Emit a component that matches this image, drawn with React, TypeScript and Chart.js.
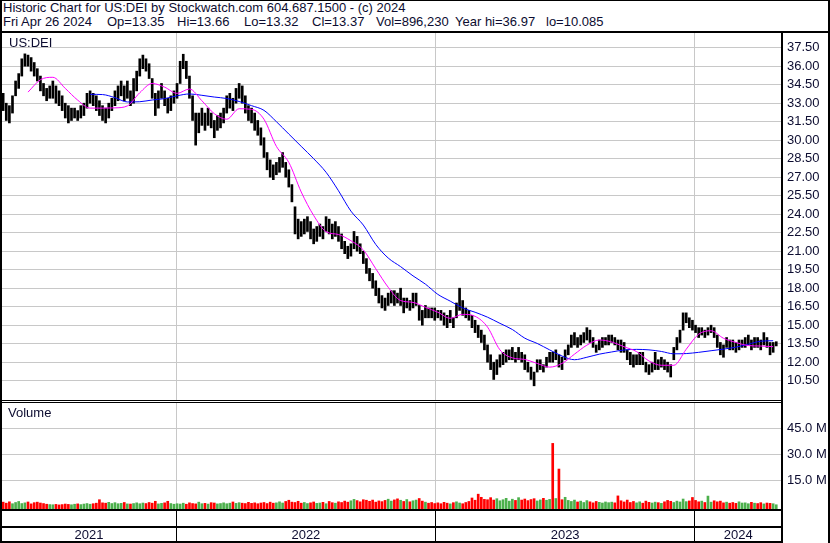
import React, { useEffect, useRef } from "react";
import { Chart, registerables } from "chart.js";
Chart.register(...registerables);

// ---- data (one bar = 3 trading days, Apr 2021 -> Apr 26 2024) ----
const priceLows = [
  32.4, 31.6, 31.4, 32.2, 33.6, 34.2, 35.2, 36.0, 36.0, 35.6,
  35.2, 34.8, 34.0, 33.6, 33.2, 33.4, 33.4, 33.0, 32.8, 32.4,
  31.8, 31.4, 31.6, 31.8, 31.6, 31.8, 32.0, 32.6, 33.0, 32.8,
  32.4, 32.0, 31.6, 31.4, 31.8, 32.4, 32.8, 33.2, 33.6, 33.2,
  33.4, 32.8, 33.0, 34.0, 35.2, 35.8, 35.6, 35.0, 33.4, 32.0,
  32.6, 33.4, 32.8, 32.2, 32.4, 33.0, 33.4, 34.6, 35.8, 35.0,
  33.4, 31.6, 29.6, 30.6, 31.2, 30.8, 31.2, 31.0, 30.2, 30.8,
  31.0, 31.4, 32.2, 32.6, 32.4, 33.0, 33.4, 33.0, 32.2, 31.6,
  31.4, 30.8, 30.4, 29.6, 28.6, 27.6, 27.0, 26.8, 27.2, 27.4,
  27.8, 27.0, 26.2, 25.0, 22.4, 22.0, 22.2, 22.4, 22.6, 22.0,
  21.6, 21.8, 22.2, 22.0, 22.6, 22.4, 22.0, 22.2, 21.8, 21.2,
  20.8, 20.4, 20.6, 21.2, 21.0, 20.8, 20.0, 19.2, 18.6, 18.0,
  17.4, 16.8, 16.4, 16.2, 16.6, 16.8, 16.6, 16.8, 16.6, 16.0,
  16.4, 16.2, 16.4, 16.6, 15.4, 15.0, 15.6, 15.6, 15.6, 15.4,
  15.6, 15.4, 15.0, 14.8, 15.2, 14.8, 15.6, 16.2, 15.8, 15.6,
  15.4, 14.8, 14.4, 14.0, 13.6, 13.0, 12.0, 11.4, 10.6, 11.0,
  11.6, 11.8, 12.0, 12.2, 12.2, 12.0, 12.2, 12.0, 11.4, 11.2,
  10.6, 10.085, 11.2, 11.4, 11.2, 11.6, 12.0, 12.0, 12.2, 11.6,
  11.4, 12.2, 12.6, 13.2, 13.4, 13.2, 13.4, 13.6, 13.8, 13.6,
  13.2, 12.8, 13.0, 13.2, 13.4, 13.4, 13.6, 13.4, 13.0, 12.8,
  12.8, 12.2, 11.8, 11.6, 11.8, 11.8, 11.8, 11.2, 11.0, 11.2,
  11.4, 11.4, 11.6, 11.4, 11.2, 10.8, 12.2, 13.0, 13.6, 14.6,
  15.2, 14.8, 14.6, 14.4, 14.0, 14.2, 14.0, 14.2, 14.4, 14.0,
  13.2, 12.6, 12.4, 13.2, 13.0, 13.0, 12.8, 13.0, 13.2, 13.2,
  13.4, 13.0, 13.2, 13.2, 13.0, 13.4, 13.2, 12.6, 12.8, 13.32,
];
const priceHighs = [
  33.8, 33.0, 32.8, 33.6, 34.8, 35.4, 36.6, 37.0, 36.9, 36.7,
  36.3, 35.8, 35.2, 34.6, 34.2, 34.4, 34.8, 34.4, 34.0, 33.6,
  33.0, 32.8, 32.6, 32.6, 32.4, 32.8, 33.0, 33.8, 34.0, 33.8,
  33.6, 33.2, 32.8, 32.6, 33.0, 33.4, 34.0, 34.4, 34.8, 34.4,
  34.8, 34.0, 35.0, 35.6, 36.6, 36.9, 36.6, 36.2, 35.0, 33.8,
  34.0, 34.6, 34.0, 33.4, 33.6, 34.0, 34.6, 36.4, 36.97, 36.4,
  35.2, 33.6, 32.2, 32.2, 32.6, 32.2, 32.6, 32.2, 31.6, 32.0,
  32.2, 32.6, 33.6, 33.8, 33.4, 34.2, 34.6, 34.4, 33.6, 32.8,
  32.6, 32.2, 31.6, 31.0, 30.2, 29.0, 28.4, 28.0, 28.2, 28.6,
  29.0, 28.2, 27.6, 26.4, 24.6, 23.6, 23.4, 23.6, 23.8, 23.4,
  22.8, 23.0, 23.2, 23.0, 23.8, 23.6, 23.2, 23.4, 23.0, 22.4,
  21.8, 21.4, 21.6, 22.6, 22.2, 21.6, 21.0, 20.4, 19.6, 19.2,
  18.6, 18.0, 17.4, 17.2, 17.6, 17.8, 17.8, 17.6, 18.0, 17.2,
  17.2, 17.0, 17.6, 17.6, 16.6, 16.2, 16.6, 16.4, 16.4, 16.4,
  16.2, 16.2, 16.0, 15.8, 16.2, 15.6, 16.8, 18.0, 17.0, 16.4,
  16.2, 15.8, 15.4, 15.0, 14.6, 14.2, 13.4, 12.6, 12.0, 12.2,
  12.6, 12.8, 13.0, 13.0, 13.2, 12.8, 13.2, 12.8, 12.6, 12.0,
  11.6, 11.2, 12.2, 12.2, 11.8, 12.4, 12.8, 12.8, 13.0, 12.6,
  12.4, 13.0, 13.4, 14.2, 14.4, 14.0, 14.2, 14.4, 14.8, 14.6,
  14.0, 13.4, 13.8, 14.0, 14.0, 14.2, 14.2, 14.0, 13.8, 13.8,
  13.6, 13.0, 12.8, 12.6, 12.6, 12.8, 12.8, 12.0, 11.8, 12.0,
  12.8, 12.2, 12.4, 12.2, 12.0, 11.8, 13.2, 14.0, 14.6, 16.0,
  16.0, 15.6, 15.4, 15.0, 14.8, 14.8, 14.6, 14.8, 15.0, 14.8,
  14.2, 13.6, 13.4, 14.0, 13.8, 13.8, 13.6, 13.8, 13.8, 14.0,
  14.2, 13.8, 14.0, 14.0, 13.8, 14.4, 14.0, 13.6, 13.6, 13.66,
];
// volume in millions of shares
const volumeM = [
  2.4, 1.8, 2.6, 1.5, 2.2, 2.8, 1.6, 2.0, 2.5, 1.4, 2.1,
  2.4, 1.9, 1.6, 1.2, 1.0, 0.9, 1.1, 0.8, 1.0, 1.3,
  1.1, 0.9, 1.2, 1.4, 1.0, 1.3, 1.6, 1.2, 1.5, 1.8, 3.8,
  2.0, 1.8, 2.3, 1.6, 2.1, 1.5, 1.7, 2.2, 1.4, 1.3, 1.6, 2.0, 1.5, 1.9,
  1.6, 2.2, 1.8, 2.9, 1.4, 1.7, 2.0, 2.9, 1.6, 1.2, 1.5,
  1.3, 1.8, 1.2, 2.0, 1.6, 1.4, 2.4, 1.5, 1.7, 1.3, 2.1, 1.9, 1.4, 1.6, 2.0, 1.5, 1.8, 2.5, 1.7,
  2.1, 1.8, 1.6, 2.3, 1.7, 2.0, 1.5, 1.9, 2.2, 1.6, 2.4, 1.8, 2.0, 2.6, 1.9,
  2.8, 3.5, 2.4, 2.2, 2.9,
  1.8, 2.2, 1.6, 2.0, 2.5, 1.7, 1.9, 2.3, 1.5, 2.8, 2.1, 1.8, 2.6, 2.2, 3.0, 2.4,
  3.2, 4.0, 3.3, 2.6, 3.8, 3.5, 2.9, 3.6, 2.4, 3.1, 2.7, 3.4, 4.1, 3.0, 3.7, 4.3, 3.5, 2.8, 3.9, 2.6, 3.2,
  3.6, 4.5, 3.0, 2.4,
  1.8, 2.2, 1.6, 2.0, 1.5, 2.3, 1.8, 1.4, 2.1, 2.6, 1.9, 1.5, 2.2, 2.8,
  4.8, 3.5, 7.0, 5.2, 4.0, 3.8, 5.0, 3.6,
  4.4, 3.2, 3.8, 4.6, 3.0, 4.1, 3.4, 5.0, 3.6, 4.2, 3.3, 3.9, 4.4, 3.1, 3.7, 4.6, 3.5,
  4.0, 36.3, 4.5, 21.5, 3.8,
  5.2, 3.4, 2.8, 3.6, 2.5, 3.0, 2.2, 3.3, 2.6, 2.0, 2.8, 2.3, 1.9, 2.5, 2.1,
  2.4, 2.0, 6.0, 3.2, 2.5, 3.6, 2.2, 2.8, 2.0, 2.6, 1.8, 3.0, 2.3, 1.9, 2.4,
  2.1, 1.7, 2.6, 3.4, 2.9, 2.2, 3.0, 2.5, 4.2, 2.7, 3.1, 5.1,
  3.4, 2.6, 3.0, 2.2, 5.9,
  2.4, 3.2, 2.6, 3.0, 2.0, 2.4, 1.8, 2.2, 1.7, 2.6, 1.9, 2.0, 1.5, 2.3, 1.8, 1.6, 2.1, 1.4, 1.9, 1.7, 1.5, 0.9,
];
// moving averages, one value every 12 trading days
const maFast = [
  null, null, 33.9, 34.9, 35.1, 34.2, 33.25, 32.6, 32.6, 32.62,
  32.78, 33.85, 34.6, 34.3, 33.8, 34.15, 33.2, 32.15, 31.7, 32.55,
  32.5, 31.7, 29.5, 28.2, 25.8, 23.9, 22.58, 22.35, 21.85, 21.1,
  19.58, 18.08, 17.0, 16.85, 16.45, 16.05, 15.56, 15.88, 15.72, 14.85,
  13.0, 12.35, 12.22, 11.9, 11.6, 11.9, 12.65, 13.38, 13.8, 13.64,
  13.25, 12.86, 12.1, 11.75, 11.75, 13.05, 14.27, 14.55, 13.94, 13.6,
  13.35, 13.31, 13.26,
];
const maSlow = [
  null, null, null, null, null, null, null, 33.72, 33.7, 33.45,
  33.1, 33.12, 33.26, 33.37, 33.6, 33.75, 33.64, 33.5, 33.38, 33.14,
  32.8, 32.42, 31.5, 30.5, 29.5, 28.5, 27.4, 25.9, 24.25, 23.12,
  21.55, 20.45, 19.75, 19.0, 18.33, 17.5, 16.95, 16.4, 16.05, 15.65,
  15.15, 14.65, 13.95, 13.52, 13.0, 12.5, 12.2, 12.4, 12.65, 12.83,
  12.99, 13.04, 13.0, 12.87, 12.68, 12.7, 12.8, 12.93, 13.06, 13.22,
  13.46, 13.7, 13.74,
];
const priceTicks = [10.5, 12, 13.5, 15, 16.5, 18, 19.5, 21, 22.5, 24, 25.5, 27, 28.5, 30, 31.5, 33, 34.5, 36, 37.5];
const volumeTicks = [15, 30, 45];
const yearLabels = ["2021", "2022", "2023", "2024"];
const yearStartDays = [170, 421, 671]; // trading-day number where 2022, 2023, 2024 begin
const headerTitle = "Historic Chart for US:DEI by Stockwatch.com 604.687.1500 - (c) 2024";
const headerFields = ["Fri Apr 26 2024", "Op=13.35", "Hi=13.66", "Lo=13.32", "Cl=13.37", "Vol=896,230", "Year hi=36.97", "lo=10.085"];
const headerFieldX = [3, 107, 177, 244, 312, 376, 455, 546];

const FIRST_DAY = 3;
const DAY_STEP = 3;
const MA_STEP = 12;
const DAY_MIN = 1.87;
const DAY_MAX = 755.54;
const PRICE_MIN = 8.935;
const PRICE_MAX = 38.692;
const VOL_MIN = -2.13;
const VOL_MAX = 59.6;

const FONT = '"Liberation Sans", Arial, sans-serif';
const TEXT = "#0c0c30";
const GRID = "#c8c8c8";
const UP = "#4cb04c";
const DOWN = "#ff0000";

function xAxis(): any {
  return {
    type: "linear",
    min: DAY_MIN,
    max: DAY_MAX,
    offset: false,
    bounds: "data",
    afterBuildTicks: (ax: any) => {
      ax.ticks = yearStartDays.map((v) => ({ value: v }));
    },
    ticks: { display: false },
    grid: { color: GRID, lineWidth: 1, drawTicks: false, offset: false },
    border: { display: false },
    afterFit: (s: any) => {
      s.height = 0;
      s.paddingLeft = 0;
      s.paddingRight = 0;
    },
  };
}

export default function App() {
  const priceRef = useRef<HTMLCanvasElement>(null);
  const volRef = useRef<HTMLCanvasElement>(null);

  useEffect(() => {
    const dayOf = (i: number) => FIRST_DAY + i * DAY_STEP;
    const maDay = (k: number) => FIRST_DAY + k * MA_STEP;

    const priceChart = new Chart(priceRef.current as HTMLCanvasElement, {
      type: "bar",
      data: {
        datasets: [
          {
            type: "line",
            data: maFast.map((v, k) => ({ x: maDay(k), y: v })),
            borderColor: "#ff00ff",
            borderWidth: 1,
            pointRadius: 0,
            cubicInterpolationMode: "monotone",
            order: 1,
          } as any,
          {
            type: "line",
            data: maSlow.map((v, k) => ({ x: maDay(k), y: v })),
            borderColor: "#0000ff",
            borderWidth: 1,
            pointRadius: 0,
            cubicInterpolationMode: "monotone",
            order: 2,
          } as any,
          {
            type: "bar",
            data: priceHighs.map((h, i) => ({ x: dayOf(i), y: [priceLows[i], h] })),
            backgroundColor: "#000000",
            barThickness: 2,
            grouped: false,
            order: 3,
          } as any,
        ],
      },
      options: {
        animation: false,
        responsive: false,
        devicePixelRatio: 1,
        events: [],
        layout: { padding: { left: 2, right: 0, top: 0, bottom: 0 } },
        plugins: { legend: { display: false }, tooltip: { enabled: false } },
        scales: {
          x: xAxis(),
          y: {
            type: "linear",
            position: "right",
            min: PRICE_MIN,
            max: PRICE_MAX,
            afterBuildTicks: (ax: any) => {
              ax.ticks = priceTicks.map((v) => ({ value: v }));
            },
            ticks: {
              padding: 5,
              color: TEXT,
              font: { family: FONT, size: 13 },
              callback: (v: any) => Number(v).toFixed(2),
            },
            grid: { color: GRID, lineWidth: 1, drawTicks: false },
            border: { display: false },
            afterFit: (s: any) => {
              s.width = 48;
              s.paddingTop = 0;
              s.paddingBottom = 0;
            },
          },
        },
      } as any,
    });

    // volume bar colour: green when the bar's price midpoint rose, red otherwise
    const colors = priceHighs.map((h, i) => {
      if (i === 0) return DOWN;
      const now = h + priceLows[i];
      const prev = priceHighs[i - 1] + priceLows[i - 1];
      return now > prev ? UP : DOWN;
    });

    const dateBand = {
      id: "dateBand",
      afterDraw(chart: any) {
        const { ctx, chartArea } = chart;
        const x = chart.scales.x;
        const top = chartArea.bottom;
        const h = chart.height;
        ctx.save();
        ctx.fillStyle = "#000000";
        yearStartDays.forEach((d) => {
          const px = Math.floor(x.getPixelForValue(d));
          ctx.fillRect(px, top, 1, h - top);
        });
        ctx.fillStyle = TEXT;
        ctx.font = `13px ${FONT}`;
        ctx.textAlign = "center";
        ctx.textBaseline = "middle";
        const bounds = [DAY_MIN, ...yearStartDays, DAY_MAX];
        yearLabels.forEach((lab, j) => {
          const a = x.getPixelForValue(bounds[j]);
          const b = x.getPixelForValue(bounds[j + 1]);
          ctx.fillText(lab, (a + b) / 2, h - 8);
        });
        ctx.restore();
      },
    };

    const volChart = new Chart(volRef.current as HTMLCanvasElement, {
      type: "bar",
      data: {
        datasets: [
          {
            data: volumeM.map((v, i) => ({ x: dayOf(i), y: v })),
            backgroundColor: colors,
            barThickness: 2,
            base: VOL_MIN,
          } as any,
        ],
      },
      options: {
        animation: false,
        responsive: false,
        devicePixelRatio: 1,
        events: [],
        layout: { padding: { left: 2, right: 0, top: 0, bottom: 33 } },
        plugins: { legend: { display: false }, tooltip: { enabled: false } },
        scales: {
          x: xAxis(),
          y: {
            type: "linear",
            position: "right",
            min: VOL_MIN,
            max: VOL_MAX,
            afterBuildTicks: (ax: any) => {
              ax.ticks = volumeTicks.map((v) => ({ value: v }));
            },
            ticks: {
              padding: 5,
              color: TEXT,
              font: { family: FONT, size: 13 },
              callback: (v: any) => Number(v).toFixed(1) + " M",
            },
            grid: { color: GRID, lineWidth: 1, drawTicks: false },
            border: { display: false },
            afterFit: (s: any) => {
              s.width = 48;
              s.paddingTop = 0;
              s.paddingBottom = 0;
            },
          },
        },
      } as any,
      plugins: [dateBand],
    });

    return () => {
      priceChart.destroy();
      volChart.destroy();
    };
  }, []);

  const line = (left: number, top: number, width: number, height: number) => (
    <div style={{ position: "absolute", left, top, width, height, background: "#000" }} />
  );
  const txt: React.CSSProperties = {
    position: "absolute",
    fontFamily: FONT,
    fontSize: 13,
    lineHeight: "15px",
    color: TEXT,
    whiteSpace: "pre",
  };

  return (
    <div
      style={{
        position: "absolute",
        left: 0,
        top: 0,
        width: 830,
        height: 543,
        background: "#fff",
        overflow: "hidden",
      }}
    >
      <div style={{ ...txt, left: 3, top: 0 }}>{headerTitle}</div>
      {headerFields.map((f, j) => (
        <div key={j} style={{ ...txt, left: headerFieldX[j], top: 14 }}>
          {f}
        </div>
      ))}
      <canvas
        ref={priceRef}
        width={830}
        height={367}
        style={{ position: "absolute", left: 0, top: 33, width: 830, height: 367 }}
      />
      <canvas
        ref={volRef}
        width={830}
        height={140}
        style={{ position: "absolute", left: 0, top: 403, width: 830, height: 140 }}
      />
      <div style={{ ...txt, left: 9, top: 35 }}>US:DEI</div>
      <div style={{ ...txt, left: 8, top: 405 }}>Volume</div>
      {line(0, 0, 830, 1)}
      {line(0, 31, 830, 2)}
      {line(0, 0, 2, 543)}
      {line(828, 0, 2, 543)}
      {line(781, 33, 2, 510)}
      {line(0, 400, 783, 1)}
      {line(0, 402, 783, 1)}
      {line(0, 509, 783, 2)}
      {line(0, 526, 783, 2)}
      {line(0, 541, 783, 2)}
    </div>
  );
}
